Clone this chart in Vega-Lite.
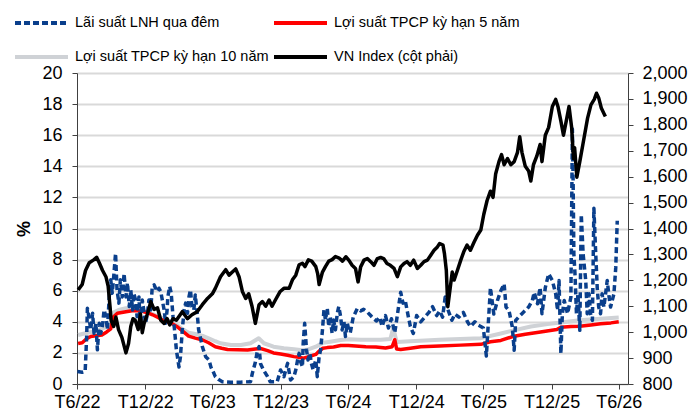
{
  "$schema": "https://vega.github.io/schema/vega-lite/v6.json",
  "width": 551,
  "height": 311,
  "autosize": {"type": "none"},
  "padding": {"left": 77, "top": 73, "right": 65, "bottom": 30},
  "background": "#ffffff",
  "config": {
    "view": {"stroke": null},
    "font": "Liberation Sans",
    "axis": {"labelFont": "Liberation Sans", "labelFontSize": 18, "labelColor": "#000000", "domainColor": "#404040", "tickColor": "#404040", "tickSize": 5, "titleFont": "Liberation Sans", "titleColor": "#000000"}
  },
  "datasets": {
    "tp10": [{"d":"2022-07-03","v":3.15},{"d":"2022-07-23","v":3.26},{"d":"2022-08-12","v":3.37},{"d":"2022-08-28","v":3.48},{"d":"2022-09-16","v":3.65},{"d":"2022-09-29","v":3.86},{"d":"2022-10-06","v":4.6},{"d":"2022-10-20","v":4.76},{"d":"2022-11-09","v":4.87},{"d":"2022-11-28","v":4.87},{"d":"2022-12-13","v":4.8},{"d":"2023-01-01","v":4.66},{"d":"2023-01-20","v":4.5},{"d":"2023-02-06","v":4.33},{"d":"2023-02-24","v":4.16},{"d":"2023-03-12","v":4.0},{"d":"2023-03-26","v":3.8},{"d":"2023-04-11","v":3.52},{"d":"2023-04-27","v":3.3},{"d":"2023-05-15","v":3.22},{"d":"2023-06-04","v":3.09},{"d":"2023-06-20","v":2.94},{"d":"2023-07-08","v":2.75},{"d":"2023-07-22","v":2.62},{"d":"2023-08-19","v":2.51},{"d":"2023-09-15","v":2.51},{"d":"2023-10-11","v":2.62},{"d":"2023-11-02","v":2.94},{"d":"2023-11-16","v":2.62},{"d":"2023-12-12","v":2.4},{"d":"2024-01-09","v":2.3},{"d":"2024-02-05","v":2.23},{"d":"2024-02-23","v":2.19},{"d":"2024-03-11","v":2.2},{"d":"2024-04-04","v":2.4},{"d":"2024-04-23","v":2.65},{"d":"2024-05-13","v":2.72},{"d":"2024-06-10","v":2.83},{"d":"2024-07-01","v":2.88},{"d":"2024-08-03","v":2.85},{"d":"2024-09-26","v":2.85},{"d":"2024-10-22","v":2.9},{"d":"2024-10-30","v":3.6},{"d":"2024-11-08","v":2.7},{"d":"2024-12-15","v":2.75},{"d":"2025-03-04","v":2.85},{"d":"2025-06-23","v":2.95},{"d":"2025-08-16","v":3.25},{"d":"2025-09-20","v":3.45},{"d":"2025-11-05","v":3.7},{"d":"2025-12-20","v":3.85},{"d":"2026-01-25","v":3.95},{"d":"2026-03-17","v":4.1},{"d":"2026-05-12","v":4.2},{"d":"2026-06-30","v":4.28}],
    "tp5": [{"d":"2022-07-03","v":2.6},{"d":"2022-07-14","v":2.65},{"d":"2022-07-25","v":2.9},{"d":"2022-08-06","v":3.05},{"d":"2022-08-20","v":3.1},{"d":"2022-09-05","v":3.15},{"d":"2022-09-18","v":3.35},{"d":"2022-09-29","v":3.55},{"d":"2022-10-06","v":4.3},{"d":"2022-10-17","v":4.55},{"d":"2022-11-09","v":4.65},{"d":"2022-11-30","v":4.72},{"d":"2022-12-18","v":4.7},{"d":"2023-01-04","v":4.6},{"d":"2023-01-20","v":4.45},{"d":"2023-02-06","v":4.25},{"d":"2023-02-24","v":4.0},{"d":"2023-03-12","v":3.9},{"d":"2023-03-26","v":3.7},{"d":"2023-04-11","v":3.4},{"d":"2023-04-27","v":3.08},{"d":"2023-05-15","v":2.95},{"d":"2023-06-04","v":2.83},{"d":"2023-06-20","v":2.65},{"d":"2023-07-08","v":2.4},{"d":"2023-07-25","v":2.3},{"d":"2023-08-10","v":2.22},{"d":"2023-09-06","v":2.2},{"d":"2023-10-03","v":2.18},{"d":"2023-10-24","v":2.25},{"d":"2023-11-07","v":2.28},{"d":"2023-11-26","v":2.15},{"d":"2023-12-12","v":2.0},{"d":"2023-12-31","v":1.93},{"d":"2024-01-19","v":1.85},{"d":"2024-02-05","v":1.76},{"d":"2024-02-18","v":1.72},{"d":"2024-03-02","v":1.66},{"d":"2024-03-11","v":1.72},{"d":"2024-04-04","v":1.9},{"d":"2024-04-12","v":2.1},{"d":"2024-04-23","v":2.3},{"d":"2024-05-05","v":2.34},{"d":"2024-05-22","v":2.38},{"d":"2024-06-10","v":2.48},{"d":"2024-07-01","v":2.48},{"d":"2024-07-20","v":2.45},{"d":"2024-08-17","v":2.4},{"d":"2024-09-13","v":2.38},{"d":"2024-10-09","v":2.32},{"d":"2024-10-27","v":2.4},{"d":"2024-11-03","v":2.85},{"d":"2024-11-08","v":2.25},{"d":"2024-11-19","v":2.22},{"d":"2024-12-15","v":2.3},{"d":"2025-01-12","v":2.4},{"d":"2025-03-04","v":2.45},{"d":"2025-04-30","v":2.5},{"d":"2025-06-23","v":2.55},{"d":"2025-07-19","v":2.72},{"d":"2025-08-16","v":2.8},{"d":"2025-09-17","v":3.05},{"d":"2025-10-21","v":3.2},{"d":"2025-12-01","v":3.35},{"d":"2026-01-14","v":3.5},{"d":"2026-01-25","v":3.65},{"d":"2026-02-21","v":3.7},{"d":"2026-03-17","v":3.72},{"d":"2026-04-16","v":3.8},{"d":"2026-05-12","v":3.88},{"d":"2026-06-09","v":3.93},{"d":"2026-06-30","v":4.0}],
    "lnh": [{"d":"2022-07-01","v":0.8},{"d":"2022-07-14","v":0.75},{"d":"2022-07-22","v":0.8},{"d":"2022-07-26","v":3.0},{"d":"2022-07-28","v":4.87},{"d":"2022-08-01","v":4.33},{"d":"2022-08-06","v":3.5},{"d":"2022-08-11","v":4.55},{"d":"2022-08-15","v":3.26},{"d":"2022-08-20","v":3.9},{"d":"2022-08-24","v":2.2},{"d":"2022-08-29","v":3.9},{"d":"2022-09-02","v":3.26},{"d":"2022-09-07","v":3.8},{"d":"2022-09-11","v":4.76},{"d":"2022-09-16","v":4.33},{"d":"2022-09-20","v":3.5},{"d":"2022-09-25","v":5.6},{"d":"2022-09-29","v":6.7},{"d":"2022-10-03","v":5.84},{"d":"2022-10-07","v":6.9},{"d":"2022-10-12","v":8.4},{"d":"2022-10-16","v":6.05},{"d":"2022-10-21","v":5.2},{"d":"2022-10-25","v":6.7},{"d":"2022-10-30","v":5.6},{"d":"2022-11-04","v":7.1},{"d":"2022-11-09","v":5.6},{"d":"2022-11-13","v":6.5},{"d":"2022-11-18","v":4.98},{"d":"2022-11-22","v":6.05},{"d":"2022-11-27","v":4.76},{"d":"2022-11-30","v":5.84},{"d":"2022-12-05","v":5.4},{"d":"2022-12-09","v":4.33},{"d":"2022-12-14","v":5.6},{"d":"2022-12-18","v":3.7},{"d":"2022-12-23","v":5.4},{"d":"2022-12-27","v":4.76},{"d":"2023-01-01","v":3.9},{"d":"2023-01-06","v":4.55},{"d":"2023-01-10","v":5.4},{"d":"2023-01-15","v":4.76},{"d":"2023-01-19","v":6.27},{"d":"2023-01-24","v":6.37},{"d":"2023-01-28","v":6.16},{"d":"2023-02-02","v":5.94},{"d":"2023-02-06","v":6.16},{"d":"2023-02-11","v":5.94},{"d":"2023-02-15","v":5.4},{"d":"2023-02-20","v":4.76},{"d":"2023-02-24","v":3.9},{"d":"2023-02-28","v":4.76},{"d":"2023-03-02","v":5.6},{"d":"2023-03-07","v":6.27},{"d":"2023-03-11","v":5.84},{"d":"2023-03-16","v":4.33},{"d":"2023-03-20","v":3.5},{"d":"2023-03-25","v":2.2},{"d":"2023-04-01","v":1.1},{"d":"2023-04-05","v":1.76},{"d":"2023-04-10","v":3.5},{"d":"2023-04-15","v":4.76},{"d":"2023-04-19","v":5.2},{"d":"2023-04-24","v":4.55},{"d":"2023-04-28","v":5.6},{"d":"2023-05-02","v":6.05},{"d":"2023-05-06","v":4.98},{"d":"2023-05-11","v":4.76},{"d":"2023-05-15","v":5.73},{"d":"2023-05-20","v":4.55},{"d":"2023-05-24","v":3.5},{"d":"2023-06-03","v":2.4},{"d":"2023-06-12","v":1.76},{"d":"2023-06-21","v":1.55},{"d":"2023-06-26","v":1.1},{"d":"2023-07-04","v":0.7},{"d":"2023-07-08","v":0.47},{"d":"2023-07-16","v":0.3},{"d":"2023-07-27","v":0.15},{"d":"2023-08-19","v":0.12},{"d":"2023-09-14","v":0.12},{"d":"2023-10-11","v":0.15},{"d":"2023-10-16","v":0.7},{"d":"2023-10-24","v":1.4},{"d":"2023-10-30","v":2.2},{"d":"2023-11-03","v":2.4},{"d":"2023-11-07","v":1.3},{"d":"2023-11-15","v":0.9},{"d":"2023-11-26","v":0.47},{"d":"2023-12-03","v":0.15},{"d":"2023-12-22","v":0.15},{"d":"2023-12-31","v":0.9},{"d":"2024-01-09","v":0.47},{"d":"2024-01-19","v":1.33},{"d":"2024-01-27","v":0.26},{"d":"2024-02-05","v":0.47},{"d":"2024-02-10","v":0.9},{"d":"2024-02-15","v":1.55},{"d":"2024-02-19","v":1.97},{"d":"2024-02-23","v":1.44},{"d":"2024-02-28","v":1.1},{"d":"2024-03-01","v":2.62},{"d":"2024-03-05","v":3.9},{"d":"2024-03-10","v":2.19},{"d":"2024-03-14","v":1.55},{"d":"2024-03-19","v":1.97},{"d":"2024-03-23","v":1.33},{"d":"2024-03-28","v":0.9},{"d":"2024-04-04","v":1.55},{"d":"2024-04-08","v":0.47},{"d":"2024-04-13","v":1.76},{"d":"2024-04-17","v":2.19},{"d":"2024-04-22","v":3.48},{"d":"2024-04-26","v":4.76},{"d":"2024-04-30","v":4.12},{"d":"2024-05-05","v":4.87},{"d":"2024-05-09","v":3.7},{"d":"2024-05-13","v":4.33},{"d":"2024-05-18","v":3.26},{"d":"2024-05-22","v":4.12},{"d":"2024-05-27","v":3.48},{"d":"2024-06-01","v":4.55},{"d":"2024-06-05","v":4.98},{"d":"2024-06-10","v":4.33},{"d":"2024-06-14","v":3.48},{"d":"2024-06-19","v":4.0},{"d":"2024-06-23","v":3.05},{"d":"2024-06-28","v":3.9},{"d":"2024-07-02","v":3.48},{"d":"2024-07-06","v":3.3},{"d":"2024-07-14","v":4.3},{"d":"2024-07-25","v":4.85},{"d":"2024-08-03","v":4.7},{"d":"2024-08-11","v":4.8},{"d":"2024-08-22","v":4.6},{"d":"2024-08-30","v":4.4},{"d":"2024-09-07","v":4.2},{"d":"2024-09-15","v":4.05},{"d":"2024-09-23","v":4.3},{"d":"2024-09-30","v":3.7},{"d":"2024-10-09","v":4.4},{"d":"2024-10-17","v":3.6},{"d":"2024-10-25","v":4.2},{"d":"2024-11-03","v":3.3},{"d":"2024-11-11","v":4.6},{"d":"2024-11-19","v":5.9},{"d":"2024-11-25","v":5.2},{"d":"2024-12-01","v":5.4},{"d":"2024-12-09","v":4.4},{"d":"2024-12-15","v":3.7},{"d":"2024-12-23","v":3.25},{"d":"2025-01-01","v":4.4},{"d":"2025-01-12","v":4.0},{"d":"2025-01-23","v":4.3},{"d":"2025-02-03","v":4.6},{"d":"2025-02-13","v":4.97},{"d":"2025-02-24","v":4.4},{"d":"2025-03-04","v":4.7},{"d":"2025-03-12","v":4.3},{"d":"2025-03-19","v":5.6},{"d":"2025-03-26","v":4.8},{"d":"2025-04-06","v":4.1},{"d":"2025-04-14","v":4.5},{"d":"2025-04-25","v":4.3},{"d":"2025-05-07","v":4.6},{"d":"2025-05-18","v":4.0},{"d":"2025-05-26","v":3.7},{"d":"2025-06-07","v":4.0},{"d":"2025-06-15","v":3.8},{"d":"2025-06-23","v":3.7},{"d":"2025-06-30","v":3.6},{"d":"2025-07-08","v":1.8},{"d":"2025-07-19","v":6.2},{"d":"2025-07-28","v":4.5},{"d":"2025-08-07","v":5.37},{"d":"2025-08-16","v":6.0},{"d":"2025-08-25","v":6.44},{"d":"2025-08-30","v":4.95},{"d":"2025-09-07","v":4.73},{"d":"2025-09-16","v":3.67},{"d":"2025-09-21","v":2.17},{"d":"2025-09-25","v":4.09},{"d":"2025-10-03","v":4.3},{"d":"2025-10-12","v":4.52},{"d":"2025-10-21","v":4.73},{"d":"2025-10-30","v":4.95},{"d":"2025-11-09","v":5.37},{"d":"2025-11-14","v":5.9},{"d":"2025-11-23","v":5.16},{"d":"2025-11-27","v":5.8},{"d":"2025-11-30","v":6.2},{"d":"2025-12-05","v":4.52},{"d":"2025-12-14","v":6.2},{"d":"2025-12-23","v":7.08},{"d":"2026-01-02","v":6.65},{"d":"2026-01-11","v":5.8},{"d":"2026-01-16","v":4.73},{"d":"2026-01-20","v":6.65},{"d":"2026-01-25","v":1.96},{"d":"2026-01-29","v":4.52},{"d":"2026-02-03","v":5.37},{"d":"2026-02-12","v":4.52},{"d":"2026-02-21","v":5.59},{"d":"2026-02-25","v":16.4},{"d":"2026-02-27","v":13.0},{"d":"2026-03-01","v":8.36},{"d":"2026-03-04","v":7.08},{"d":"2026-03-08","v":4.52},{"d":"2026-03-12","v":5.8},{"d":"2026-03-17","v":3.45},{"d":"2026-03-21","v":10.9},{"d":"2026-03-26","v":8.36},{"d":"2026-04-02","v":6.65},{"d":"2026-04-06","v":4.52},{"d":"2026-04-11","v":5.8},{"d":"2026-04-15","v":4.52},{"d":"2026-04-20","v":4.09},{"d":"2026-04-24","v":11.3},{"d":"2026-04-29","v":8.36},{"d":"2026-05-03","v":6.2},{"d":"2026-05-07","v":4.95},{"d":"2026-05-12","v":4.52},{"d":"2026-05-16","v":5.8},{"d":"2026-05-21","v":4.95},{"d":"2026-05-30","v":6.65},{"d":"2026-06-04","v":5.59},{"d":"2026-06-08","v":4.95},{"d":"2026-06-17","v":5.8},{"d":"2026-06-22","v":7.5},{"d":"2026-06-26","v":10.5}],
    "vni": [{"d":"2022-07-03","v":1163},{"d":"2022-07-14","v":1184},{"d":"2022-07-23","v":1238},{"d":"2022-08-02","v":1268},{"d":"2022-08-15","v":1280},{"d":"2022-08-22","v":1289},{"d":"2022-08-29","v":1268},{"d":"2022-09-07","v":1238},{"d":"2022-09-16","v":1214},{"d":"2022-09-22","v":1178},{"d":"2022-09-27","v":1100},{"d":"2022-09-30","v":1046},{"d":"2022-10-07","v":1022},{"d":"2022-10-13","v":1058},{"d":"2022-10-20","v":1010},{"d":"2022-10-29","v":980},{"d":"2022-11-09","v":920},{"d":"2022-11-16","v":956},{"d":"2022-11-22","v":1022},{"d":"2022-11-28","v":1052},{"d":"2022-12-04","v":1046},{"d":"2022-12-12","v":1010},{"d":"2022-12-18","v":1070},{"d":"2022-12-23","v":998},{"d":"2022-12-28","v":1034},{"d":"2023-01-06","v":1070},{"d":"2023-01-15","v":1118},{"d":"2023-01-24","v":1088},{"d":"2023-02-02","v":1094},{"d":"2023-02-11","v":1046},{"d":"2023-02-20","v":1034},{"d":"2023-02-28","v":1052},{"d":"2023-03-07","v":1028},{"d":"2023-03-16","v":1052},{"d":"2023-03-25","v":1046},{"d":"2023-04-10","v":1079},{"d":"2023-04-24","v":1052},{"d":"2023-05-06","v":1067},{"d":"2023-05-20","v":1079},{"d":"2023-06-03","v":1106},{"d":"2023-06-17","v":1130},{"d":"2023-06-30","v":1148},{"d":"2023-07-08","v":1169},{"d":"2023-07-22","v":1214},{"d":"2023-08-05","v":1241},{"d":"2023-08-14","v":1220},{"d":"2023-08-23","v":1232},{"d":"2023-09-01","v":1244},{"d":"2023-09-10","v":1214},{"d":"2023-09-19","v":1157},{"d":"2023-09-28","v":1130},{"d":"2023-10-06","v":1148},{"d":"2023-10-15","v":1100},{"d":"2023-10-24","v":1034},{"d":"2023-11-03","v":1106},{"d":"2023-11-12","v":1118},{"d":"2023-11-21","v":1100},{"d":"2023-11-30","v":1124},{"d":"2023-12-08","v":1100},{"d":"2023-12-17","v":1124},{"d":"2023-12-30","v":1157},{"d":"2024-01-09","v":1169},{"d":"2024-01-23","v":1169},{"d":"2024-02-01","v":1202},{"d":"2024-02-10","v":1220},{"d":"2024-02-19","v":1260},{"d":"2024-02-28","v":1266},{"d":"2024-03-06","v":1253},{"d":"2024-03-15","v":1279},{"d":"2024-03-24","v":1274},{"d":"2024-04-04","v":1253},{"d":"2024-04-09","v":1226},{"d":"2024-04-13","v":1184},{"d":"2024-04-22","v":1232},{"d":"2024-04-30","v":1253},{"d":"2024-05-09","v":1274},{"d":"2024-05-18","v":1280},{"d":"2024-05-27","v":1292},{"d":"2024-06-06","v":1286},{"d":"2024-06-15","v":1274},{"d":"2024-06-24","v":1291},{"d":"2024-07-02","v":1278},{"d":"2024-07-11","v":1258},{"d":"2024-07-20","v":1246},{"d":"2024-07-27","v":1194},{"d":"2024-08-03","v":1252},{"d":"2024-08-12","v":1278},{"d":"2024-08-21","v":1284},{"d":"2024-08-30","v":1272},{"d":"2024-09-08","v":1258},{"d":"2024-09-17","v":1284},{"d":"2024-09-26","v":1288},{"d":"2024-10-04","v":1284},{"d":"2024-10-13","v":1265},{"d":"2024-10-22","v":1258},{"d":"2024-11-01","v":1246},{"d":"2024-11-10","v":1214},{"d":"2024-11-19","v":1252},{"d":"2024-11-28","v":1265},{"d":"2024-12-06","v":1272},{"d":"2024-12-15","v":1258},{"d":"2024-12-24","v":1278},{"d":"2025-01-03","v":1246},{"d":"2025-01-12","v":1258},{"d":"2025-01-21","v":1272},{"d":"2025-01-30","v":1278},{"d":"2025-02-08","v":1297},{"d":"2025-02-17","v":1316},{"d":"2025-02-26","v":1329},{"d":"2025-03-04","v":1342},{"d":"2025-03-13","v":1336},{"d":"2025-03-17","v":1303},{"d":"2025-03-22","v":1239},{"d":"2025-03-26","v":1098},{"d":"2025-04-03","v":1188},{"d":"2025-04-07","v":1232},{"d":"2025-04-12","v":1201},{"d":"2025-04-21","v":1239},{"d":"2025-04-30","v":1278},{"d":"2025-05-08","v":1310},{"d":"2025-05-17","v":1336},{"d":"2025-05-26","v":1316},{"d":"2025-06-05","v":1348},{"d":"2025-06-14","v":1374},{"d":"2025-06-23","v":1394},{"d":"2025-07-01","v":1454},{"d":"2025-07-10","v":1508},{"d":"2025-07-19","v":1544},{"d":"2025-07-26","v":1520},{"d":"2025-08-02","v":1610},{"d":"2025-08-11","v":1658},{"d":"2025-08-18","v":1685},{"d":"2025-08-25","v":1646},{"d":"2025-09-03","v":1670},{"d":"2025-09-12","v":1646},{"d":"2025-09-21","v":1658},{"d":"2025-09-30","v":1694},{"d":"2025-10-06","v":1754},{"d":"2025-10-12","v":1694},{"d":"2025-10-21","v":1640},{"d":"2025-10-30","v":1622},{"d":"2025-11-05","v":1583},{"d":"2025-11-12","v":1646},{"d":"2025-11-21","v":1679},{"d":"2025-11-30","v":1724},{"d":"2025-12-05","v":1658},{"d":"2025-12-14","v":1760},{"d":"2025-12-23","v":1790},{"d":"2026-01-02","v":1871},{"d":"2026-01-11","v":1898},{"d":"2026-01-17","v":1871},{"d":"2026-01-25","v":1814},{"d":"2026-02-01","v":1760},{"d":"2026-02-10","v":1826},{"d":"2026-02-16","v":1871},{"d":"2026-02-23","v":1790},{"d":"2026-02-28","v":1670},{"d":"2026-03-03","v":1712},{"d":"2026-03-09","v":1598},{"d":"2026-03-17","v":1658},{"d":"2026-03-26","v":1730},{"d":"2026-04-07","v":1826},{"d":"2026-04-16","v":1877},{"d":"2026-04-25","v":1898},{"d":"2026-05-01","v":1922},{"d":"2026-05-07","v":1904},{"d":"2026-05-14","v":1865},{"d":"2026-05-21","v":1844},{"d":"2026-05-25","v":1832}]
  },
  "encoding": {
    "x": {
      "field": "d", "type": "temporal",
      "scale": {"type": "utc", "domain": [{"year": 2022, "month": 6, "date": 30, "utc": true}, {"year": 2026, "month": 7, "date": 25, "utc": true}]},
      "axis": {
        "title": null, "grid": false,
        "labelExpr": "'T' + (utcmonth(datum.value) + 1) + '/' + (utcyear(datum.value) % 100)",
        "values": [{"year": 2022, "month": 6, "date": 30, "utc": true}, {"year": 2022, "month": 12, "date": 31, "utc": true}, {"year": 2023, "month": 6, "date": 30, "utc": true}, {"year": 2023, "month": 12, "date": 31, "utc": true}, {"year": 2024, "month": 6, "date": 30, "utc": true}, {"year": 2024, "month": 12, "date": 31, "utc": true}, {"year": 2025, "month": 6, "date": 30, "utc": true}, {"year": 2025, "month": 12, "date": 31, "utc": true}, {"year": 2026, "month": 6, "date": 30, "utc": true}],
        "labelPadding": 4, "labelOverlap": false, "labelBound": false, "labelFlush": false
      }
    }
  },
  "layer": [
    {
      "encoding": {
        "y": {
          "field": "v", "type": "quantitative",
          "scale": {"domain": [0, 20], "nice": false, "zero": false},
          "axis": {"title": "%", "titleFontSize": 18, "titleFontWeight": "bold", "titlePadding": 8, "values": [0, 2, 4, 6, 8, 10, 12, 14, 16, 18, 20], "grid": true, "gridColor": "#d9d9d9", "gridWidth": 2, "labelPadding": 10, "orient": "left"}
        }
      },
      "layer": [
        {
          "data": {"name": "tp10"},
          "mark": {"type": "line", "strokeWidth": 4, "strokeJoin": "round"},
          "encoding": {
            "color": {"datum": "Lợi suất TPCP kỳ hạn 10 năm", "type": "nominal",
              "scale": {"domain": ["Lãi suất LNH qua đêm", "Lợi suất TPCP kỳ hạn 5 năm", "Lợi suất TPCP kỳ hạn 10 năm", "VN Index (cột phải)"], "range": ["#0a3f8c", "#ff0000", "#cfd2d6", "#000000"]},
              "legend": {"title": null, "orient": "none", "direction": "horizontal", "legendX": -64, "legendY": -58, "columns": 2, "symbolType": "stroke", "symbolSize": 2809, "symbolStrokeWidth": 4, "labelFont": "Liberation Sans", "labelFontSize": 14.5, "labelColor": "#000000", "labelLimit": 400, "labelOffset": 5, "columnPadding": 2, "rowPadding": 18, "clipHeight": 16, "padding": 0,
                "encode": {"symbols": {"update": {"strokeDash": {"signal": "datum.value === 'Lãi suất LNH qua đêm' ? [6, 3] : [1, 0]"}}}}}
            }
          }
        },
        {
          "data": {"name": "tp5"},
          "mark": {"type": "line", "strokeWidth": 3.5, "strokeJoin": "round"},
          "encoding": {"color": {"datum": "Lợi suất TPCP kỳ hạn 5 năm", "type": "nominal"}}
        },
        {
          "data": {"name": "lnh"},
          "mark": {"type": "line", "strokeWidth": 3.5, "strokeDash": [6, 3.5], "strokeJoin": "round"},
          "encoding": {"color": {"datum": "Lãi suất LNH qua đêm", "type": "nominal"}}
        }
      ]
    },
    {
      "data": {"name": "vni"},
      "mark": {"type": "line", "strokeWidth": 3.5, "strokeJoin": "round"},
      "encoding": {
        "y": {
          "field": "v", "type": "quantitative",
          "scale": {"domain": [800, 2000], "nice": false, "zero": false},
          "axis": {"title": null, "orient": "right", "values": [800, 900, 1000, 1100, 1200, 1300, 1400, 1500, 1600, 1700, 1800, 1900, 2000],
            "labelExpr": "datum.value >= 1000 ? floor(datum.value / 1000) + ',' + substring(toString(1000 + datum.value % 1000), 1, 4) : toString(datum.value)",
            "grid": false, "labelPadding": 9}
        },
        "color": {"datum": "VN Index (cột phải)", "type": "nominal"}
      }
    }
  ],
  "resolve": {"scale": {"y": "independent"}}
}
